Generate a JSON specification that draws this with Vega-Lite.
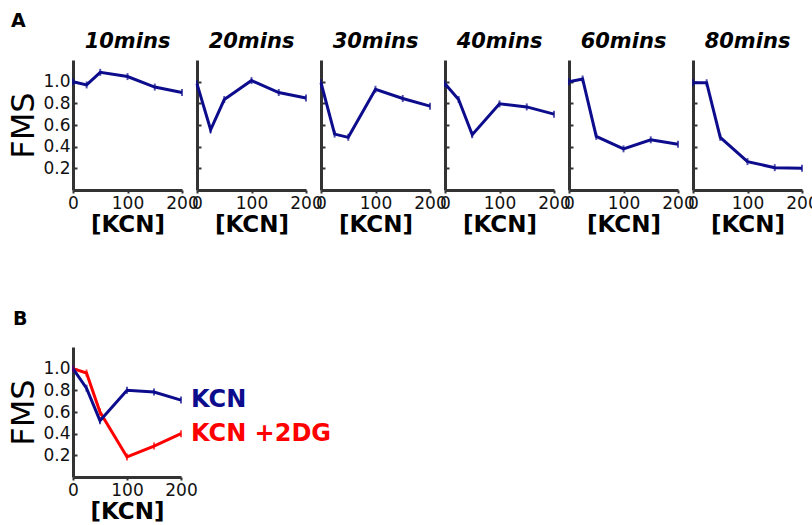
{
  "$schema": "https://vega.github.io/schema/vega-lite/v6.json",
  "padding": {"left": 7, "top": 12, "right": 5, "bottom": 5},
  "background": "white",
  "datasets": {
    "a": [
      {"panel": "10mins", "kcn": 0, "fms": 1.0},
      {"panel": "10mins", "kcn": 25, "fms": 0.97},
      {"panel": "10mins", "kcn": 50, "fms": 1.086},
      {"panel": "10mins", "kcn": 100, "fms": 1.047},
      {"panel": "10mins", "kcn": 150, "fms": 0.95},
      {"panel": "10mins", "kcn": 200, "fms": 0.9},
      {"panel": "20mins", "kcn": 0, "fms": 0.98},
      {"panel": "20mins", "kcn": 25, "fms": 0.556},
      {"panel": "20mins", "kcn": 50, "fms": 0.835},
      {"panel": "20mins", "kcn": 100, "fms": 1.01},
      {"panel": "20mins", "kcn": 150, "fms": 0.9},
      {"panel": "20mins", "kcn": 200, "fms": 0.85},
      {"panel": "30mins", "kcn": 0, "fms": 0.99},
      {"panel": "30mins", "kcn": 25, "fms": 0.516},
      {"panel": "30mins", "kcn": 50, "fms": 0.486},
      {"panel": "30mins", "kcn": 100, "fms": 0.93},
      {"panel": "30mins", "kcn": 150, "fms": 0.845},
      {"panel": "30mins", "kcn": 200, "fms": 0.774},
      {"panel": "40mins", "kcn": 0, "fms": 0.98},
      {"panel": "40mins", "kcn": 25, "fms": 0.835},
      {"panel": "40mins", "kcn": 50, "fms": 0.51},
      {"panel": "40mins", "kcn": 100, "fms": 0.795},
      {"panel": "40mins", "kcn": 150, "fms": 0.767},
      {"panel": "40mins", "kcn": 200, "fms": 0.7},
      {"panel": "60mins", "kcn": 0, "fms": 1.0},
      {"panel": "60mins", "kcn": 25, "fms": 1.025},
      {"panel": "60mins", "kcn": 50, "fms": 0.495},
      {"panel": "60mins", "kcn": 100, "fms": 0.38},
      {"panel": "60mins", "kcn": 150, "fms": 0.463},
      {"panel": "60mins", "kcn": 200, "fms": 0.423},
      {"panel": "80mins", "kcn": 0, "fms": 0.99},
      {"panel": "80mins", "kcn": 25, "fms": 0.99},
      {"panel": "80mins", "kcn": 50, "fms": 0.486},
      {"panel": "80mins", "kcn": 100, "fms": 0.262},
      {"panel": "80mins", "kcn": 150, "fms": 0.206},
      {"panel": "80mins", "kcn": 200, "fms": 0.2}
    ],
    "b": [
      {"series": "KCN +2DG", "kcn": 0, "fms": 1.0},
      {"series": "KCN +2DG", "kcn": 25, "fms": 0.96},
      {"series": "KCN +2DG", "kcn": 50, "fms": 0.6},
      {"series": "KCN +2DG", "kcn": 100, "fms": 0.185},
      {"series": "KCN +2DG", "kcn": 150, "fms": 0.286},
      {"series": "KCN +2DG", "kcn": 200, "fms": 0.4},
      {"series": "KCN", "kcn": 0, "fms": 1.0},
      {"series": "KCN", "kcn": 25, "fms": 0.82},
      {"series": "KCN", "kcn": 50, "fms": 0.52},
      {"series": "KCN", "kcn": 100, "fms": 0.8},
      {"series": "KCN", "kcn": 150, "fms": 0.785},
      {"series": "KCN", "kcn": 200, "fms": 0.71}
    ]
  },
  "align": "none",
  "vconcat": [
    {
      "title": {"text": "A", "anchor": "start", "fontSize": 19, "fontStyle": "normal", "fontWeight": "bold", "offset": 0, "dx": 3},
      "bounds": "flush",
      "spacing": 15,
      "hconcat": [
        {
          "width": 109, "height": 130, "title": "10mins",
          "data": {"name": "a"},
          "transform": [{"filter": "datum.panel === '10mins'"}],
          "encoding": {
            "x": {"field": "kcn", "type": "quantitative", "scale": {"domain": [0, 200]}, "axis": {"values": [0, 100, 200], "title": "[KCN]"}},
            "y": {"field": "fms", "type": "quantitative", "scale": {"domain": [0, 1.2]}, "axis": {"values": [0.2, 0.4, 0.6, 0.8, 1.0], "format": ".1f", "title": "FMS"}}
          },
          "layer": [
            {"mark": {"type": "line", "color": "#0c0c8c", "strokeWidth": 3}},
            {"mark": {"type": "tick", "orient": "vertical", "color": "#0c0c8c", "size": 7, "thickness": 2}}
          ]
        },
        {
          "width": 109, "height": 130, "title": "20mins",
          "data": {"name": "a"},
          "transform": [{"filter": "datum.panel === '20mins'"}],
          "encoding": {
            "x": {"field": "kcn", "type": "quantitative", "scale": {"domain": [0, 200]}, "axis": {"values": [0, 100, 200], "title": "[KCN]"}},
            "y": {"field": "fms", "type": "quantitative", "scale": {"domain": [0, 1.2]}, "axis": {"values": [0.2, 0.4, 0.6, 0.8, 1.0], "labels": false, "title": null}}
          },
          "layer": [
            {"mark": {"type": "line", "color": "#0c0c8c", "strokeWidth": 3}},
            {"mark": {"type": "tick", "orient": "vertical", "color": "#0c0c8c", "size": 7, "thickness": 2}}
          ]
        },
        {
          "width": 109, "height": 130, "title": "30mins",
          "data": {"name": "a"},
          "transform": [{"filter": "datum.panel === '30mins'"}],
          "encoding": {
            "x": {"field": "kcn", "type": "quantitative", "scale": {"domain": [0, 200]}, "axis": {"values": [0, 100, 200], "title": "[KCN]"}},
            "y": {"field": "fms", "type": "quantitative", "scale": {"domain": [0, 1.2]}, "axis": {"values": [0.2, 0.4, 0.6, 0.8, 1.0], "labels": false, "title": null}}
          },
          "layer": [
            {"mark": {"type": "line", "color": "#0c0c8c", "strokeWidth": 3}},
            {"mark": {"type": "tick", "orient": "vertical", "color": "#0c0c8c", "size": 7, "thickness": 2}}
          ]
        },
        {
          "width": 109, "height": 130, "title": "40mins",
          "data": {"name": "a"},
          "transform": [{"filter": "datum.panel === '40mins'"}],
          "encoding": {
            "x": {"field": "kcn", "type": "quantitative", "scale": {"domain": [0, 200]}, "axis": {"values": [0, 100, 200], "title": "[KCN]"}},
            "y": {"field": "fms", "type": "quantitative", "scale": {"domain": [0, 1.2]}, "axis": {"values": [0.2, 0.4, 0.6, 0.8, 1.0], "labels": false, "title": null}}
          },
          "layer": [
            {"mark": {"type": "line", "color": "#0c0c8c", "strokeWidth": 3}},
            {"mark": {"type": "tick", "orient": "vertical", "color": "#0c0c8c", "size": 7, "thickness": 2}}
          ]
        },
        {
          "width": 109, "height": 130, "title": "60mins",
          "data": {"name": "a"},
          "transform": [{"filter": "datum.panel === '60mins'"}],
          "encoding": {
            "x": {"field": "kcn", "type": "quantitative", "scale": {"domain": [0, 200]}, "axis": {"values": [0, 100, 200], "title": "[KCN]"}},
            "y": {"field": "fms", "type": "quantitative", "scale": {"domain": [0, 1.2]}, "axis": {"values": [0.2, 0.4, 0.6, 0.8, 1.0], "labels": false, "title": null}}
          },
          "layer": [
            {"mark": {"type": "line", "color": "#0c0c8c", "strokeWidth": 3}},
            {"mark": {"type": "tick", "orient": "vertical", "color": "#0c0c8c", "size": 7, "thickness": 2}}
          ]
        },
        {
          "width": 109, "height": 130, "title": "80mins",
          "data": {"name": "a"},
          "transform": [{"filter": "datum.panel === '80mins'"}],
          "encoding": {
            "x": {"field": "kcn", "type": "quantitative", "scale": {"domain": [0, 200]}, "axis": {"values": [0, 100, 200], "title": "[KCN]"}},
            "y": {"field": "fms", "type": "quantitative", "scale": {"domain": [0, 1.2]}, "axis": {"values": [0.2, 0.4, 0.6, 0.8, 1.0], "labels": false, "title": null}}
          },
          "layer": [
            {"mark": {"type": "line", "color": "#0c0c8c", "strokeWidth": 3}},
            {"mark": {"type": "tick", "orient": "vertical", "color": "#0c0c8c", "size": 7, "thickness": 2}}
          ]
        }
      ]
    },
    {
      "title": {"text": "B", "anchor": "start", "fontSize": 19, "fontStyle": "normal", "fontWeight": "bold", "offset": 18, "frame": "bounds", "dx": 5},
      "width": 108, "height": 130,
      "data": {"name": "b"},
      "encoding": {
        "x": {"field": "kcn", "type": "quantitative", "scale": {"domain": [0, 200]}, "axis": {"values": [0, 100, 200], "title": "[KCN]"}},
        "y": {"field": "fms", "type": "quantitative", "scale": {"domain": [0, 1.2]}, "axis": {"values": [0.2, 0.4, 0.6, 0.8, 1.0], "format": ".1f", "title": "FMS"}},
        "color": {"field": "series", "type": "nominal", "scale": {"domain": ["KCN +2DG", "KCN"], "range": ["#ff0000", "#0c0c8c"]}, "legend": null}
      },
      "layer": [
        {"mark": {"type": "line", "strokeWidth": 3}},
        {"mark": {"type": "tick", "orient": "vertical", "size": 7, "thickness": 2}},
        {
          "transform": [{"filter": "datum.kcn === 200"}],
          "mark": {"type": "text", "align": "left", "baseline": "middle", "dx": 10, "fontSize": 24, "fontWeight": "bold", "font": "DejaVu Sans"},
          "encoding": {
            "text": {"field": "series", "type": "nominal"},
            "color": {"field": "series", "type": "nominal", "scale": {"domain": ["KCN +2DG", "KCN"], "range": ["#ff0000", "#2a2a9a"]}, "legend": null}
          }
        }
      ]
    }
  ],
  "spacing": 74,
  "resolve": {"scale": {"color": "independent"}},
  "config": {
    "view": {"stroke": null},
    "font": "DejaVu Sans",
    "title": {"font": "DejaVu Sans", "fontSize": 21, "fontWeight": "bold", "fontStyle": "italic", "color": "black", "offset": 8},
    "axis": {
      "grid": false,
      "domainColor": "#333333",
      "domainWidth": 3,
      "tickColor": "#333333",
      "tickWidth": 2,
      "labelFont": "DejaVu Sans",
      "labelFontSize": 17,
      "labelColor": "#111111",
      "labelFlush": false,
      "labelOverlap": false,
      "titleFont": "DejaVu Sans",
      "titleColor": "black"
    },
    "axisX": {"titleFontSize": 23, "titleFontWeight": "bold", "titlePadding": 2, "labelPadding": 2, "tickSize": 3},
    "axisY": {"titleFontSize": 32, "titleFontWeight": "normal", "titlePadding": 2, "labelPadding": 7, "tickSize": -4}
  }
}
